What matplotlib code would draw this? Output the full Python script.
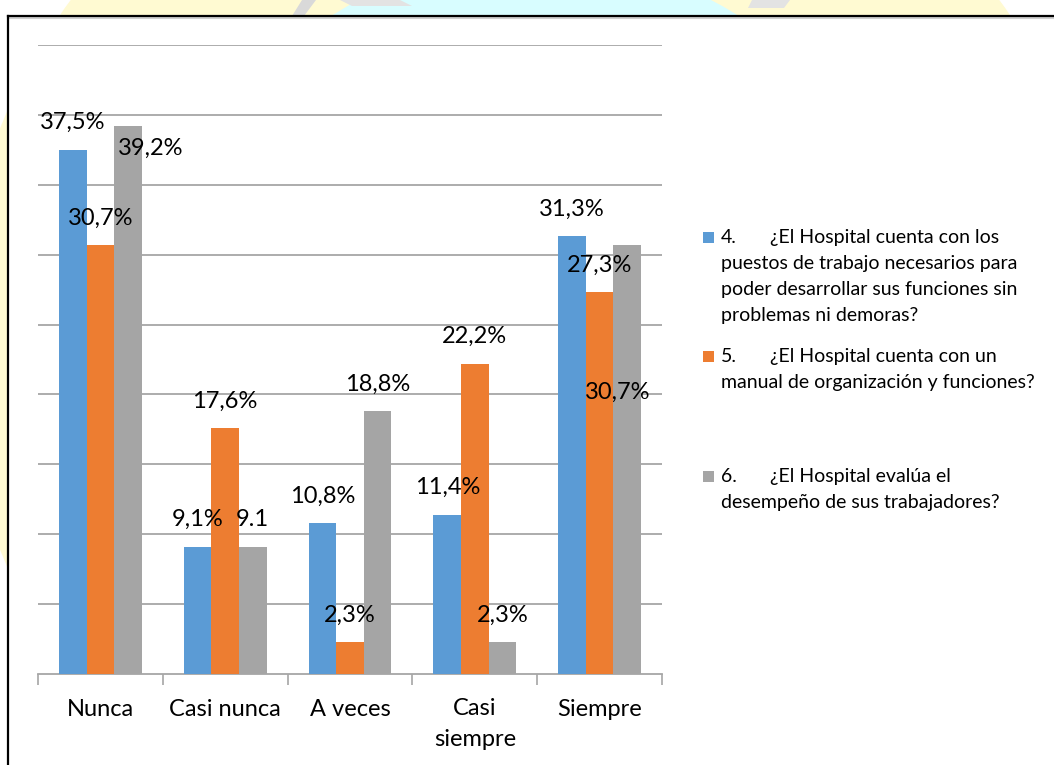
import matplotlib
matplotlib.use("Agg")
import matplotlib.pyplot as plt
import numpy as np
from matplotlib.patches import Rectangle, Circle, Polygon

# ---- data -------------------------------------------------------------
categories = ["Nunca", "Casi nunca", "A veces", "Casi\nsiempre", "Siempre"]
p4 = [37.5, 9.1, 10.8, 11.4, 31.3]
p5 = [30.7, 17.6, 2.3, 22.2, 27.3]
p6 = [39.2, 9.1, 18.8, 2.3, 30.7]
labels4 = ["37,5%", "9,1%", "10,8%", "11,4%", "31,3%"]
labels5 = ["30,7%", "17,6%", "2,3%", "22,2%", "27,3%"]
labels6 = ["39,2%", "9.1", "18,8%", "2,3%", "30,7%"]

legend4 = ["4.", "¿El Hospital cuenta con los",
           "puestos de trabajo necesarios para",
           "poder desarrollar sus funciones sin",
           "problemas ni demoras?"]
legend5 = ["5.", "¿El Hospital cuenta con un",
           "manual de organización y funciones?"]
legend6 = ["6.", "¿El Hospital evalúa el",
           "desempeño de sus trabajadores?"]

BLUE, ORANGE, GRAY = "#5B9BD5", "#ED7D31", "#A5A5A5"
FONT = "Lato"
LABEL_SIZE = 17
LEGEND_SIZE = 14

W, H = 1054, 765
fig = plt.figure(figsize=(W / 100, H / 100), dpi=100)

# ---- page background (faint seal behind the frame) ----------------------
bg = fig.add_axes([0, 0, 1, 1], zorder=-5)
bg.set_xlim(0, W)
bg.set_ylim(H, 0)
bg.axis("off")
bg.add_patch(Circle((535, 339), 575, facecolor="#FFFAD2", edgecolor="none"))
bg.add_patch(Circle((535, 339), 382, facecolor="#D8FDFF", edgecolor="none"))
bg.add_patch(Polygon([[302, 0], [316, 0], [304, 16], [292, 16]],
                     facecolor="#D9D9D9", edgecolor="none"))
bg.add_patch(Polygon([[340, 0], [400, 0], [412, 6], [352, 6]],
                     facecolor="#E3E3E3", edgecolor="none"))
bg.add_patch(Polygon([[752, 0], [790, 0], [784, 8], [748, 8]],
                     facecolor="#E3E3E3", edgecolor="none"))
# white chart area with its frame (left and top edges visible)
bg.add_patch(Rectangle((8, 16), W, H, facecolor="white", edgecolor="none"))
bg.plot([8, W], [17.5, 17.5], color="#D0D0D0", lw=1.5)
bg.plot([8, W], [16, 16], color="black", lw=1.6)
bg.plot([8, 8], [16, H], color="black", lw=1.6)

# ---- bars ---------------------------------------------------------------
ax = fig.add_axes([38 / W, 1 - 674 / H, (662 - 38) / W, (674 - 45) / H])
ax.set_facecolor("none")
x = np.arange(len(categories))
bw = 0.221
series = [(p4, labels4, BLUE, -bw), (p5, labels5, ORANGE, 0.0), (p6, labels6, GRAY, bw)]

# label offsets (pixels) from the top-centre of each bar
default_off = (0, 27)
moved = {(2, 0): (23, -22), (2, 4): (-9.5, -147)}

for si, (vals, labs, col, off) in enumerate(series):
    ax.bar(x + off, vals, width=bw, color=col, edgecolor="none", zorder=3)
    for ci, (v, t) in enumerate(zip(vals, labs)):
        dx, dy = moved.get((si, ci), default_off)
        ax.annotate(t, xy=(x[ci] + off, v), xytext=(dx, dy),
                    textcoords="offset pixels", ha="center", va="center",
                    fontsize=LABEL_SIZE, family=FONT, color="black", zorder=5)

ax.set_xlim(-0.5, len(categories) - 0.5)
ax.set_ylim(0, 45)
ax.set_yticks(np.arange(5, 46, 5))
ax.yaxis.grid(True, color="#A6A6A6", lw=1.3)
ax.set_axisbelow(True)
ax.tick_params(axis="y", left=False, labelleft=False)
for s in ["left", "right", "top"]:
    ax.spines[s].set_visible(False)
ax.spines["bottom"].set_color("#A6A6A6")
ax.spines["bottom"].set_linewidth(1.3)

ax.set_xticks(np.arange(-0.5, len(categories), 1.0))
ax.set_xticklabels([])
ax.tick_params(axis="x", length=8, width=1.2, color="#A6A6A6")
for ci, name in enumerate(categories):
    two_lines = "\n" in name
    ax.annotate(name, xy=(x[ci], 0), xytext=(0, -24 if two_lines else -36),
                textcoords="offset pixels",
                ha="center", va="top" if two_lines else "center",
                family=FONT, fontsize=LABEL_SIZE, linespacing=1.6,
                annotation_clip=False)

# ---- legend ---------------------------------------------------------------
def legend_block(lines, color, y0):
    bg.add_patch(Rectangle((703, y0 - 5.5), 11, 11, facecolor=color, edgecolor="none"))
    bg.text(721, y0, lines[0], ha="left", va="center", fontsize=LEGEND_SIZE, family=FONT)
    bg.text(770, y0, lines[1], ha="left", va="center", fontsize=LEGEND_SIZE, family=FONT)
    for k, ln in enumerate(lines[2:], start=1):
        bg.text(721, y0 + 26 * k, ln, ha="left", va="center", fontsize=LEGEND_SIZE,
                family=FONT)

legend_block(legend4, BLUE, 237)
legend_block(legend5, ORANGE, 356)
legend_block(legend6, GRAY, 476)

fig.savefig("out.png", dpi=100)
